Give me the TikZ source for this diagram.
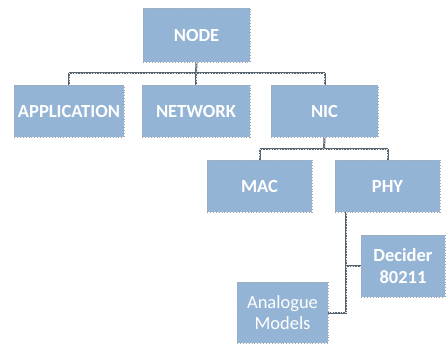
\documentclass[tikz,border=0pt]{standalone}
\usepackage{fontspec}
\setmainfont{Carlito}
\begin{document}
\begin{tikzpicture}[x=1pt,y=-1pt,
  box/.style={fill=boxblue, draw=gray!70, dotted, line width=0.9pt,
    text=white, font=\fontsize{18.5}{22}\selectfont\bfseries, align=center,
    inner sep=0pt},
  link/.style={draw=linkgray, line width=2pt},
  linkdots/.style={draw=white!80!gray, line width=0.7pt, dash pattern=on 1.2pt off 1.5pt}]
\definecolor{boxblue}{HTML}{94B4D6}
\definecolor{linkgray}{HTML}{56646F}
\useasboundingbox (0,0) rectangle (446,345);

% boxes (centre, size)
\node[box, minimum width=107, minimum height=54] (node) at (196.5,35) {NODE};
\node[box, minimum width=110, minimum height=52] (app) at (69,111) {APPLICATION};
\node[box, minimum width=108, minimum height=52] (net) at (196,111) {NETWORK};
\node[box, minimum width=107, minimum height=52] (nic) at (324.5,111) {NIC};
\node[box, minimum width=105, minimum height=52] (mac) at (259.5,186) {MAC};
\node[box, minimum width=105, minimum height=52] (phy) at (387.5,186) {PHY};
\node[box, minimum width=84, minimum height=62] (dec) at (403,266) {Decider\\80211};
\node[box, minimum width=91, minimum height=61, font=\fontsize{18.5}{21.5}\selectfont] (ana) at (282.5,312.5) {Analogue\\Models};

% tree connectors
\coordinate (busA) at (196,73);
\coordinate (busB) at (324,149);
\coordinate (phyx) at (346,212);
\foreach \s in {link,linkdots}{
  \draw[\s] (node.south) -- (busA);
  \draw[\s] (busA -| app) -- (busA -| nic);
  \draw[\s] (busA -| app) -- (app.north);
  \draw[\s] (busA -| net) -- (net.north);
  \draw[\s] (busA -| nic) -- (nic.north);
  \draw[\s] (nic.south) -- (busB);
  \draw[\s] (busB -| mac) -- (busB -| phy);
  \draw[\s] (busB -| mac) -- (mac.north);
  \draw[\s] (busB -| phy) -- (phy.north);
  \draw[\s] (phyx |- phy.south) -- (phyx |- ana.east) -- (ana.east);
  \draw[\s] (phyx |- dec.west) -- (dec.west);
}
\end{tikzpicture}
\end{document}
